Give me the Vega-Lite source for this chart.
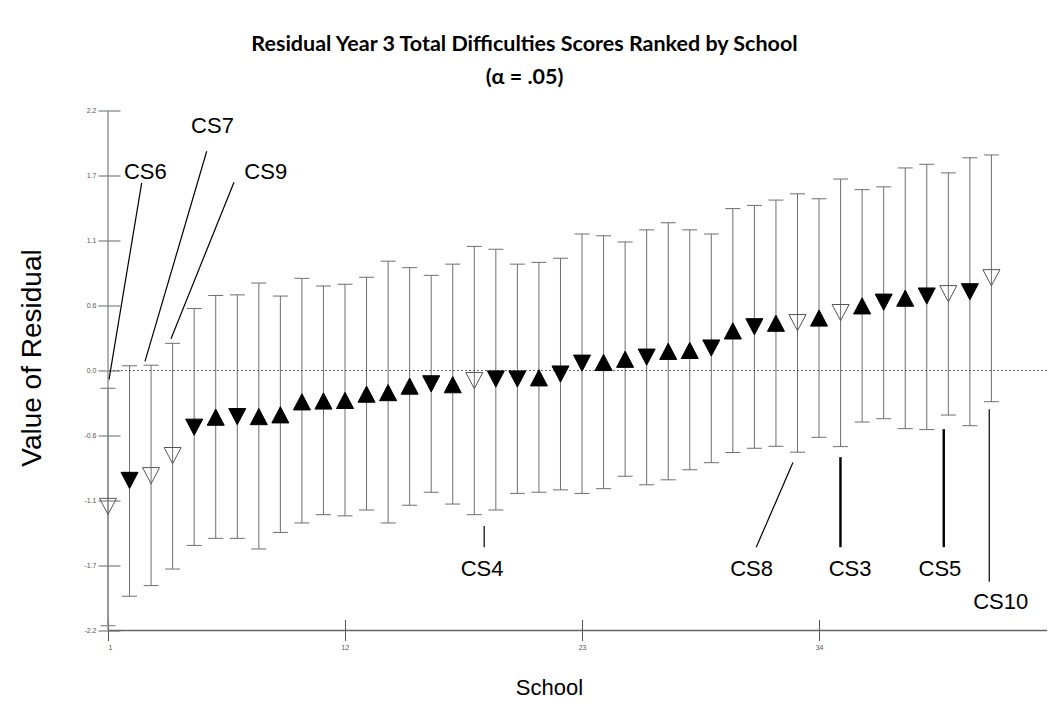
{
  "$schema": "https://vega.github.io/schema/vega-lite/v6.json",
  "autosize": {"type": "none"},
  "width": 939,
  "height": 520,
  "padding": {"left": 108, "top": 110.5, "right": 2, "bottom": 84.5},
  "background": "white",
  "config": {"view": {"stroke": null}, "font": "Liberation Sans"},
  "title": {
    "text": ["Residual Year 3 Total Difficulties Scores Ranked by School", "(α = .05)"],
    "font": "Lato",
    "fontWeight": "bold",
    "fontSize": 21.5,
    "lineHeight": 33,
    "anchor": "middle",
    "frame": "group",
    "dx": -53,
    "offset": 18,
    "color": "black"
  },
  "datasets": {
    "schools": [
      {"school": 1, "r": -1.15, "lo": -2.16, "hi": -0.15, "type": "open"},
      {"school": 2, "r": -0.93, "lo": -1.91, "hi": 0.04, "type": "down"},
      {"school": 3, "r": -0.89, "lo": -1.82, "hi": 0.045, "type": "open"},
      {"school": 4, "r": -0.72, "lo": -1.68, "hi": 0.23, "type": "open"},
      {"school": 5, "r": -0.48, "lo": -1.48, "hi": 0.525, "type": "down"},
      {"school": 6, "r": -0.395, "lo": -1.42, "hi": 0.635, "type": "up"},
      {"school": 7, "r": -0.39, "lo": -1.42, "hi": 0.64, "type": "down"},
      {"school": 8, "r": -0.39, "lo": -1.51, "hi": 0.74, "type": "up"},
      {"school": 9, "r": -0.375, "lo": -1.37, "hi": 0.63, "type": "up"},
      {"school": 10, "r": -0.265, "lo": -1.29, "hi": 0.78, "type": "up"},
      {"school": 11, "r": -0.258, "lo": -1.22, "hi": 0.715, "type": "up"},
      {"school": 12, "r": -0.253, "lo": -1.23, "hi": 0.73, "type": "up"},
      {"school": 13, "r": -0.2, "lo": -1.18, "hi": 0.79, "type": "up"},
      {"school": 14, "r": -0.187, "lo": -1.29, "hi": 0.925, "type": "up"},
      {"school": 15, "r": -0.132, "lo": -1.14, "hi": 0.87, "type": "up"},
      {"school": 16, "r": -0.113, "lo": -1.03, "hi": 0.805, "type": "down"},
      {"school": 17, "r": -0.12, "lo": -1.13, "hi": 0.9, "type": "up"},
      {"school": 18, "r": -0.085, "lo": -1.22, "hi": 1.05, "type": "open"},
      {"school": 19, "r": -0.072, "lo": -1.18, "hi": 1.026, "type": "down"},
      {"school": 20, "r": -0.072, "lo": -1.04, "hi": 0.9, "type": "down"},
      {"school": 21, "r": -0.062, "lo": -1.03, "hi": 0.915, "type": "up"},
      {"school": 22, "r": -0.03, "lo": -1.01, "hi": 0.95, "type": "down"},
      {"school": 23, "r": 0.062, "lo": -1.04, "hi": 1.155, "type": "down"},
      {"school": 24, "r": 0.068, "lo": -1.0, "hi": 1.14, "type": "up"},
      {"school": 25, "r": 0.095, "lo": -0.895, "hi": 1.088, "type": "up"},
      {"school": 26, "r": 0.113, "lo": -0.967, "hi": 1.19, "type": "down"},
      {"school": 27, "r": 0.162, "lo": -0.925, "hi": 1.25, "type": "up"},
      {"school": 28, "r": 0.17, "lo": -0.84, "hi": 1.19, "type": "up"},
      {"school": 29, "r": 0.19, "lo": -0.78, "hi": 1.155, "type": "down"},
      {"school": 30, "r": 0.335, "lo": -0.694, "hi": 1.37, "type": "up"},
      {"school": 31, "r": 0.37, "lo": -0.658, "hi": 1.397, "type": "down"},
      {"school": 32, "r": 0.4, "lo": -0.641, "hi": 1.442, "type": "up"},
      {"school": 33, "r": 0.405, "lo": -0.691, "hi": 1.495, "type": "open"},
      {"school": 34, "r": 0.444, "lo": -0.565, "hi": 1.453, "type": "up"},
      {"school": 35, "r": 0.49, "lo": -0.644, "hi": 1.62, "type": "open"},
      {"school": 36, "r": 0.547, "lo": -0.436, "hi": 1.53, "type": "up"},
      {"school": 37, "r": 0.578, "lo": -0.408, "hi": 1.554, "type": "down"},
      {"school": 38, "r": 0.612, "lo": -0.492, "hi": 1.714, "type": "up"},
      {"school": 39, "r": 0.63, "lo": -0.5, "hi": 1.745, "type": "down"},
      {"school": 40, "r": 0.65, "lo": -0.377, "hi": 1.672, "type": "open"},
      {"school": 41, "r": 0.666, "lo": -0.467, "hi": 1.8, "type": "down"},
      {"school": 42, "r": 0.785, "lo": -0.264, "hi": 1.824, "type": "open"}
    ],
    "labels": [
      {"label": "CS6", "x": 2.73, "y": 1.688},
      {"label": "CS7", "x": 5.85, "y": 2.079},
      {"label": "CS9", "x": 8.32, "y": 1.688},
      {"label": "CS4", "x": 18.36, "y": -1.671},
      {"label": "CS8", "x": 30.87, "y": -1.671},
      {"label": "CS3", "x": 35.44, "y": -1.671},
      {"label": "CS5", "x": 39.61, "y": -1.671},
      {"label": "CS10", "x": 42.43, "y": -1.95}
    ],
    "leaders": [
      {"label": "CS6", "x": 2.564, "y": 1.588, "x2": 1.046, "y2": -0.078},
      {"label": "CS7", "x": 5.581, "y": 1.855, "x2": 2.717, "y2": 0.077},
      {"label": "CS9", "x": 6.848, "y": 1.593, "x2": 3.924, "y2": 0.269},
      {"label": "CS4", "x": 18.459, "y": -1.315, "x2": 18.459, "y2": -1.495},
      {"label": "CS8", "x": 32.789, "y": -0.779, "x2": 31.086, "y2": -1.495},
      {"label": "CS3", "x": 34.994, "y": -0.733, "x2": 34.994, "y2": -1.495},
      {"label": "CS5", "x": 39.788, "y": -0.496, "x2": 39.788, "y2": -1.495},
      {"label": "CS10", "x": 41.9, "y": -0.327, "x2": 41.9, "y2": -1.787}
    ]
  },
  "layer": [
    {
      "data": {"name": "schools"},
      "mark": {"type": "rule", "color": "#6e6e6e", "strokeWidth": 1},
      "encoding": {
        "x": {
          "field": "school", "type": "quantitative",
          "scale": {"domain": [1, 44.58], "nice": false, "zero": false},
          "axis": {
            "title": "School",
            "values": [1, 12, 23, 34],
            "format": "d",
            "offset": -11,
            "tickSize": 21,
            "tickColor": "#555",
            "domain": false,
            "grid": false,
            "labelFontSize": 7,
            "labelColor": "#555",
            "labelPadding": 3,
            "titleFont": "Liberation Sans",
            "titleFontSize": 22,
            "titleFontWeight": "normal",
            "titleColor": "black",
            "titleX": 441,
            "titlePadding": 27
          }
        },
        "y": {
          "field": "lo", "type": "quantitative",
          "scale": {"domain": [-2.2, 2.2], "nice": false, "zero": false},
          "axis": {
            "title": "Value of Residual",
            "values": [-2.2, -1.65, -1.1, -0.55, 0, 0.55, 1.1, 1.65, 2.2],
            "labelExpr": "datum.value > 2 ? '2.2' : datum.value > 1.6 ? '1.7' : datum.value > 1 ? '1.1' : datum.value > 0.5 ? '0.6' : datum.value > -0.1 ? '0.0' : datum.value > -0.6 ? '-0.6' : datum.value > -1.2 ? '-1.1' : datum.value > -1.7 ? '-1.7' : '-2.2'",
            "offset": -12,
            "tickSize": 22,
            "tickColor": "#666",
            "domain": false,
            "grid": false,
            "labelFontSize": 7,
            "labelColor": "#555",
            "labelPadding": 2,
            "titleFont": "Liberation Sans",
            "titleFontSize": 28,
            "titleFontWeight": "normal",
            "titleColor": "black",
            "titleY": 247,
            "titlePadding": 37
          }
        },
        "y2": {"field": "hi"}
      }
    },
    {
      "data": {"name": "schools"},
      "mark": {"type": "tick", "orient": "horizontal", "size": 15, "thickness": 1, "color": "#6e6e6e", "opacity": 1},
      "encoding": {
        "x": {"field": "school", "type": "quantitative"},
        "y": {"field": "lo", "type": "quantitative"}
      }
    },
    {
      "data": {"name": "schools"},
      "mark": {"type": "tick", "orient": "horizontal", "size": 15, "thickness": 1, "color": "#6e6e6e", "opacity": 1},
      "encoding": {
        "x": {"field": "school", "type": "quantitative"},
        "y": {"field": "hi", "type": "quantitative"}
      }
    },
    {
      "data": {"values": [{"v": 0}]},
      "mark": {"type": "rule", "color": "#666", "strokeDash": [2, 2], "strokeWidth": 1},
      "encoding": {"y": {"field": "v", "type": "quantitative"}}
    },
    {
      "data": {"values": [{"a": 1, "b": -2.2, "c": 2.2}]},
      "mark": {"type": "rule", "color": "#888", "strokeWidth": 1.3},
      "encoding": {
        "x": {"field": "a", "type": "quantitative"},
        "y": {"field": "b", "type": "quantitative"},
        "y2": {"field": "c"}
      }
    },
    {
      "data": {"values": [{"a": 1, "b": 44.58, "c": -2.2}]},
      "mark": {"type": "rule", "color": "#666", "strokeWidth": 1.5},
      "encoding": {
        "x": {"field": "a", "type": "quantitative"},
        "x2": {"field": "b"},
        "y": {"field": "c", "type": "quantitative"}
      }
    },
    {
      "data": {"name": "schools"},
      "mark": {"type": "point", "filled": true, "opacity": 1, "size": 290, "strokeWidth": 1},
      "encoding": {
        "x": {"field": "school", "type": "quantitative"},
        "y": {"field": "r", "type": "quantitative"},
        "shape": {
          "field": "type", "type": "nominal", "legend": null,
          "scale": {"domain": ["up", "down", "open"], "range": ["M0,-0.95L1,0.95L-1,0.95Z", "M-1,-0.95L1,-0.95L0,0.95Z", "M-1,-0.95L1,-0.95L0,0.95Z"]}
        },
        "fill": {
          "field": "type", "type": "nominal", "legend": null,
          "scale": {"domain": ["up", "down", "open"], "range": ["black", "black", "transparent"]}
        },
        "stroke": {
          "field": "type", "type": "nominal", "legend": null,
          "scale": {"domain": ["up", "down", "open"], "range": ["black", "black", "#555"]}
        }
      }
    },
    {
      "data": {"name": "leaders"},
      "mark": {"type": "rule", "color": "black"},
      "encoding": {
        "x": {"field": "x", "type": "quantitative"},
        "y": {"field": "y", "type": "quantitative"},
        "x2": {"field": "x2"},
        "y2": {"field": "y2"},
        "strokeWidth": {
          "condition": {"test": "datum.label == 'CS3' || datum.label == 'CS5'", "value": 2.4},
          "value": 1.2
        }
      }
    },
    {
      "data": {"name": "labels"},
      "mark": {"type": "text", "font": "Liberation Sans", "fontSize": 22, "color": "black", "align": "center", "baseline": "middle", "dy": 1},
      "encoding": {
        "x": {"field": "x", "type": "quantitative"},
        "y": {"field": "y", "type": "quantitative"},
        "text": {"field": "label"}
      }
    }
  ]
}
